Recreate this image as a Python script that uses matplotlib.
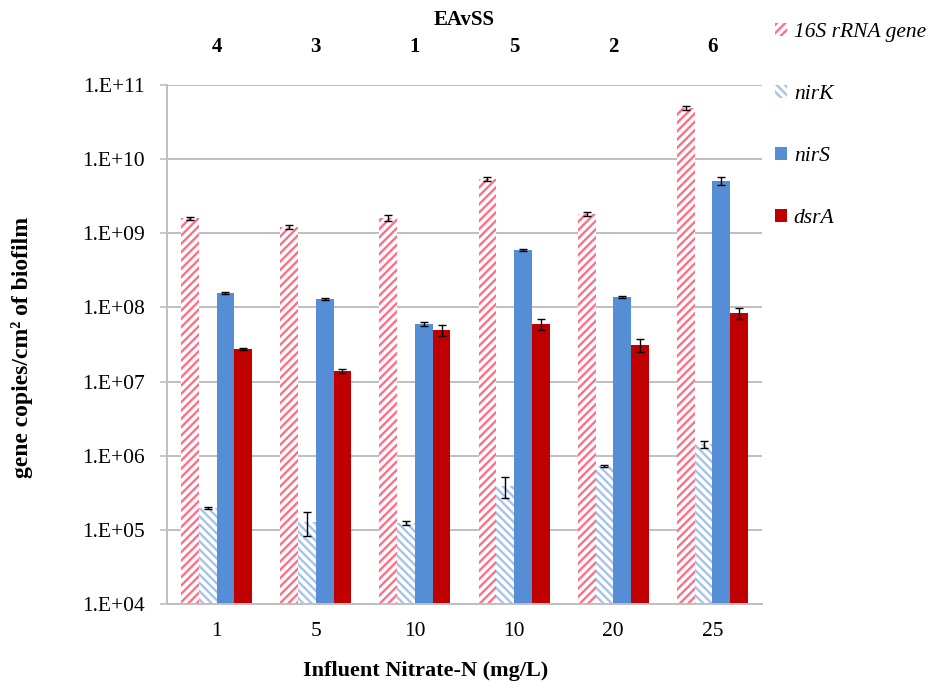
import matplotlib
matplotlib.use('Agg')
import matplotlib.pyplot as plt
import numpy as np
from matplotlib.ticker import FixedLocator, FuncFormatter, NullLocator

plt.rcParams['font.family'] = 'Liberation Serif'
plt.rcParams['hatch.linewidth'] = 1.7

# influent nitrate (bottom axis) and EAvSS reactor number (top axis)
nitrate = ['1', '5', '10', '10', '20', '25']
eavss = ['4', '3', '1', '5', '2', '6']

# gene copies per cm2 of biofilm, mean and error
rrna16s = [1.6e9, 1.22e9, 1.6e9, 5.4e9, 1.82e9, 4.9e10]
rrna16s_err = [0.08e9, 0.08e9, 0.15e9, 0.3e9, 0.12e9, 3.5e9]
nirk = [1.97e5, 1.28e5, 1.24e5, 3.9e5, 7.3e5, 1.44e6]
nirk_err = [0.08e5, 0.45e5, 0.08e5, 1.2e5, 0.2e5, 0.15e6]
nirs = [1.56e8, 1.3e8, 5.97e7, 5.95e8, 1.38e8, 5.07e9]
nirs_err = [0.06e8, 0.05e8, 0.3e7, 0.25e8, 0.05e8, 0.6e9]
dsra = [2.75e7, 1.39e7, 4.96e7, 5.97e7, 3.1e7, 8.4e7]
dsra_err = [0.1e7, 0.08e7, 0.8e7, 1.0e7, 0.6e7, 1.5e7]

fig = plt.figure(figsize=(9.32, 6.90), dpi=100)
ax = fig.add_axes([0.1792, 0.1246, 0.6384, 0.7522])

x = np.arange(len(nitrate))
w = 0.179
err_kw = dict(ecolor='black', capsize=3, elinewidth=1, capthick=1)

ax.bar(x - 1.5 * w, rrna16s, w, yerr=rrna16s_err, color='white', edgecolor='#FF6F87',
       hatch='////', linewidth=0, label='16S rRNA gene', error_kw=err_kw, zorder=2)
ax.bar(x - 0.5 * w, nirk, w, yerr=nirk_err, color='white', edgecolor='#A7C3E8',
       hatch='\\\\\\\\', linewidth=0, label='nirK', error_kw=err_kw, zorder=2)
ax.bar(x + 0.5 * w, nirs, w, yerr=nirs_err, color='#558ED5', linewidth=0,
       label='nirS', error_kw=err_kw, zorder=2)
ax.bar(x + 1.5 * w, dsra, w, yerr=dsra_err, color='#C00000', linewidth=0,
       label='dsrA', error_kw=err_kw, zorder=2)

ax.set_yscale('log')
ax.set_ylim(1e4, 1e11)
ax.set_xlim(-0.5, len(nitrate) - 0.5)
ax.yaxis.set_major_locator(FixedLocator([10.0 ** k for k in range(4, 12)]))
ax.yaxis.set_minor_locator(NullLocator())
ax.yaxis.set_major_formatter(FuncFormatter(lambda v, p: '1.E+%02d' % round(np.log10(v))))
ax.grid(axis='y', color='#BFBFBF', linewidth=1.4, zorder=0)
ax.set_axisbelow(True)

for s in ['top', 'right']:
    ax.spines[s].set_visible(False)
for s in ['left', 'bottom']:
    ax.spines[s].set_color('#BFBFBF')
    ax.spines[s].set_linewidth(1.4)

ax.set_xticks(x)
ax.set_xticklabels(nitrate)
ax.tick_params(axis='x', length=0, pad=13, labelsize=15.5)
ax.tick_params(axis='y', length=5, width=1.2, color='#BFBFBF', pad=11, labelsize=15.5)

# reactor numbers along the top
top = ax.secondary_xaxis('top')
top.set_xticks(x)
top.set_xticklabels(eavss, fontweight='bold')
top.tick_params(length=0, pad=20, labelsize=15)
top.spines['top'].set_visible(False)
top.set_xlabel('EAvSS', fontweight='bold', fontsize=15, labelpad=9)

fig.text(22 / 932, 1 - 347 / 690, 'gene copies/cm² of biofilm', rotation=90,
         ha='center', va='center', fontweight='bold', fontsize=17)
fig.text(426 / 932, 1 - 671 / 690, 'Influent Nitrate-N (mg/L)',
         ha='center', va='center', fontweight='bold', fontsize=16)

fig.legend(loc='upper left', bbox_to_anchor=(0.8196, 0.982), frameon=False,
           prop={'style': 'italic', 'size': 15.5}, handlelength=0.56,
           handleheight=0.56, handletextpad=0.33, labelspacing=1.98, borderpad=0)

fig.savefig('out.png', dpi=100)
